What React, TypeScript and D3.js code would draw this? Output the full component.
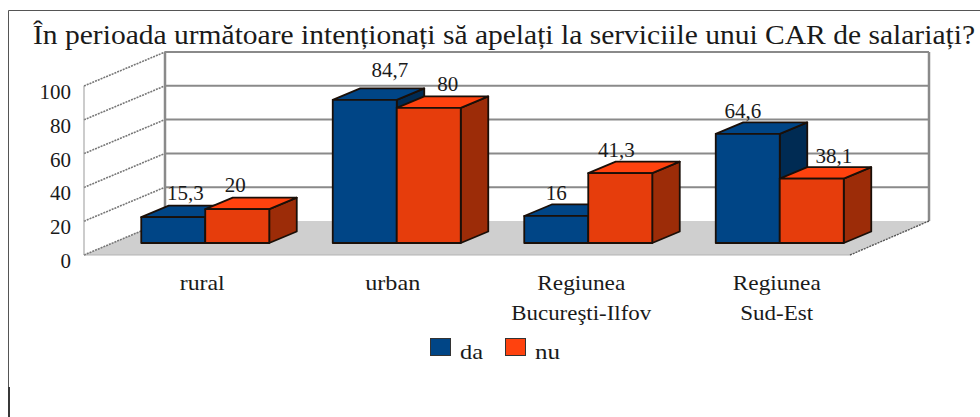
import React from "react";
import * as d3 from "d3";

const categories = ["rural", "urban", "Regiunea|Bucureşti-Ilfov", "Regiunea|Sud-Est"];
const seriesDa = [15.3, 84.7, 16, 64.6];
const seriesNu = [20, 80, 41.3, 38.1];
const labelsDa = ["15,3", "84,7", "16", "64,6"];
const labelsNu = ["20", "80", "41,3", "38,1"];
const yTicks = [0, 20, 40, 60, 80, 100];
const titleText = "În perioada următoare intenționați să apelați la serviciile unui CAR de salariați?";

const W = 980, H = 417;
const FRONT_X0 = 84, FRONT_X1 = 850, BASE_Y = 255;
const DEPTH_X = 81, DEPTH_Y = -34;
const FONT = "'Liberation Serif', serif";
const FS = 21;
const INK = "#1a1a1a";

// label placement nudges (px from the bar's front-face centre / above its top)
const nudgeDa = [[12, 17], [25, 23], [0, 16], [-5, 16]];
const nudgeNu = [[-2, 17], [19, 17], [-4, 16], [22, 16]];
const catNudge = [0, -1, -4, 0];
const catWidths: Record<string, number> = { rural: 45, urban: 55, Regiunea: 88, "Bucureşti-Ilfov": 140, "Sud-Est": 73 };

const x = d3.scaleBand<number>().domain(d3.range(categories.length)).range([FRONT_X0, FRONT_X1]);
const y = d3.scaleLinear().domain([0, 100]).range([0, 169]);
const sub = d3.scaleBand<number>().domain([0, 1]).range([0, 128]);

const C = {
  da: { front: "#004586", top: "#004586", side: "#002b53" },
  nu: { front: "#e63d0c", top: "#ff420e", side: "#9c2c08" },
};

const BAR_SHIFT = 26, BAR_LIFT = 12;

function Bar({ x0, w, h, c }: { x0: number; w: number; h: number; c: typeof C.da }) {
  const bx = x0 + BAR_SHIFT, by = BASE_Y - BAR_LIFT;
  const dx = 27.5, dy = -11.5;
  const top = by - h;
  const stroke = { stroke: "#1a0f08", strokeWidth: 1.8, strokeLinejoin: "round" as const };
  return (
    <g>
      <polygon points={`${bx + w},${by} ${bx + w + dx},${by + dy} ${bx + w + dx},${top + dy} ${bx + w},${top}`} fill={c.side} {...stroke} />
      <polygon points={`${bx},${top} ${bx + dx},${top + dy} ${bx + w + dx},${top + dy} ${bx + w},${top}`} fill={c.top} {...stroke} />
      <rect x={bx} y={top} width={w} height={h} fill={c.front} {...stroke} />
    </g>
  );
}

export default function App() {
  const backRight = FRONT_X1 + DEPTH_X - 2;
  return (
    <svg width={W} height={H} style={{ position: "absolute", left: 0, top: 0, background: "#fff" }}>
      <path d="M8.5,387V10.5H980" fill="none" stroke="#555" strokeWidth={1} />
      <path d="M9,387V417" fill="none" stroke="#222" strokeWidth={1.8} />
      <text x={33} y={44} fontFamily={FONT} fontSize={27} textLength={942} lengthAdjust="spacingAndGlyphs" fill={INK}>{titleText}</text>

      <polygon points={`${FRONT_X0},${BASE_Y} ${FRONT_X0 + DEPTH_X},${BASE_Y + DEPTH_Y} ${backRight},${BASE_Y + DEPTH_Y} ${FRONT_X1},${BASE_Y}`} fill="#cfcfcf" />
      <line x1={FRONT_X0} x2={FRONT_X1} y1={BASE_Y} y2={BASE_Y} stroke="#b3b3b3" strokeWidth={1} />

      {yTicks.map((t) => {
        const yy = BASE_Y - y(t);
        return (
          <g key={t}>
            <line x1={FRONT_X0} y1={yy} x2={FRONT_X0 + DEPTH_X} y2={yy + DEPTH_Y} stroke="#777" strokeWidth={1.6} strokeDasharray="2 1" />
            {t > 0 && <line x1={FRONT_X0 + DEPTH_X} x2={backRight} y1={yy + DEPTH_Y} y2={yy + DEPTH_Y} stroke="#8a8a8a" strokeWidth={2} />}
            <text x={71} y={yy + 13} textAnchor="end" fontFamily={FONT} fontSize={FS} fill={INK}>{t}</text>
          </g>
        );
      })}
      <line x1={FRONT_X0} x2={FRONT_X0} y1={BASE_Y} y2={BASE_Y - y(100)} stroke="#999" strokeWidth={1} />
      <line x1={FRONT_X0 + DEPTH_X} x2={FRONT_X0 + DEPTH_X} y1={BASE_Y + DEPTH_Y} y2={BASE_Y + DEPTH_Y - y(100)} stroke="#8a8a8a" strokeWidth={2.5} />
      <line x1={backRight} x2={backRight} y1={BASE_Y + DEPTH_Y} y2={BASE_Y + DEPTH_Y - y(100)} stroke="#8a8a8a" strokeWidth={2.5} />
      <line x1={FRONT_X1} y1={BASE_Y} x2={backRight} y2={BASE_Y + DEPTH_Y} stroke="#555" strokeWidth={1.4} strokeDasharray="2 1" />

      {categories.map((cat, i) => {
        const g0 = x(i)! + (x.bandwidth() - 129) / 2;
        const w = sub.bandwidth();
        const cx0 = g0 + sub(0)! + BAR_SHIFT + w / 2;
        const cx1 = g0 + sub(1)! + BAR_SHIFT + w / 2;
        const top = BASE_Y - BAR_LIFT;
        return (
          <g key={cat}>
            <Bar x0={g0 + sub(0)!} w={w} h={y(seriesDa[i])} c={C.da} />
            <Bar x0={g0 + sub(1)!} w={w} h={y(seriesNu[i])} c={C.nu} />
            <text x={cx0 + nudgeDa[i][0]} y={top - y(seriesDa[i]) - nudgeDa[i][1]} textAnchor="middle" fontFamily={FONT} fontSize={FS} fill={INK}>{labelsDa[i]}</text>
            <text x={cx1 + nudgeNu[i][0]} y={top - y(seriesNu[i]) - nudgeNu[i][1]} textAnchor="middle" fontFamily={FONT} fontSize={FS} fill={INK}>{labelsNu[i]}</text>
            {cat.split("|").map((ln, k) => (
              <text key={ln} x={x(i)! + x.bandwidth() / 2 + 22.5 + catNudge[i]} y={290 + k * 30} textAnchor="middle" fontFamily={FONT} fontSize={FS} textLength={catWidths[ln]} lengthAdjust="spacingAndGlyphs" fill={INK}>{ln}</text>
            ))}
          </g>
        );
      })}

      <rect x={430.5} y={338.5} width={20} height={17} fill="#004586" stroke="#333" />
      <text x={460} y={359} fontFamily={FONT} fontSize={FS} textLength={23} lengthAdjust="spacingAndGlyphs" fill={INK}>da</text>
      <rect x={505.5} y={338.5} width={20} height={17} fill="#ff420e" stroke="#333" />
      <text x={535} y={359} fontFamily={FONT} fontSize={FS} textLength={25} lengthAdjust="spacingAndGlyphs" fill={INK}>nu</text>
    </svg>
  );
}
